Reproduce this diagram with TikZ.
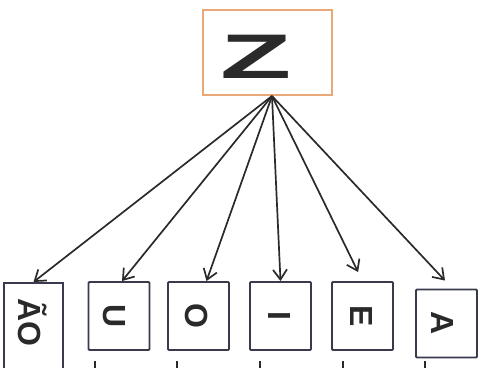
\documentclass[tikz,border=0pt]{standalone}
\usepackage{fontspec}
\setmainfont{Liberation Sans}
\usetikzlibrary{arrows.meta}
\definecolor{boxcol}{HTML}{3A3A4E}
\definecolor{zcol}{HTML}{E8A878}
\definecolor{ink}{HTML}{2A2A2A}
\begin{document}
\begin{tikzpicture}[x=1pt,y=-1pt,
  letterbox/.style={draw=boxcol,line width=1.9pt,minimum width=61pt,minimum height=68pt,inner sep=0pt,rounded corners=1pt},
  letter/.style={rotate=-90,font=\fontsize{32}{32}\selectfont\bfseries,text=ink},
  conn/.style={draw=ink,line width=1.7pt,-{Straight Barb[length=10pt,width=14pt,line width=1.7pt]}},
  tick/.style={draw=ink,line width=1.3pt}]
\useasboundingbox (0,0) rectangle (494,367);
\node[draw=zcol,line width=2pt,minimum width=129pt,minimum height=85pt,inner sep=0pt] (Z) at (267.5,52.5) {};
\node[font=\fontsize{63}{63}\selectfont\bfseries,text=ink] (Zt) at (256.5,57) {\scalebox{1.85}[1]{Z}};
\coordinate (o) at (272,96);
\node[draw=boxcol,line width=1.9pt,minimum width=59pt,minimum height=110pt,inner sep=0pt,anchor=north] (b1) at (33.5,282) {};
\node[letter] (t1) at (33,322) {ÃO};
\node[letterbox] (b2) at (119,316) {};
\node[letter] (t2) at (114,316) {U};
\node[letterbox] (b3) at (198.5,316) {};
\node[letter] (t3) at (197,316) {O};
\node[letterbox] (b4) at (280.5,316) {};
\node[letter] (t4) at (280,316) {I};
\node[letterbox] (b5) at (362.5,316) {};
\node[letter] (t5) at (362,316) {E};
\node[letterbox] (b6) at (446.5,323.5) {};
\node[letter] (t6) at (442,323.5) {A};
\draw[conn] (o) -- (b1.north);
\draw[conn] (o) -- ([xshift=3pt]b2.north);
\draw[conn] (o) -- ([xshift=8pt]b3.north);
\draw[conn] (o) -- (b4.north);
\draw[conn,shorten >=10pt] (o) -- (b5.north);
\draw[conn,shorten >=11pt] (o) -- ([xshift=6pt]b6.north);
\coordinate (k1) at (95,361); \coordinate (k2) at (177,361); \coordinate (k3) at (260,361);
\coordinate (k4) at (343,361); \coordinate (k5) at (425,361);
\foreach \k in {k1,k2,k3,k4,k5} \draw[tick] (\k) -- ++(0,7);
\end{tikzpicture}
\end{document}
